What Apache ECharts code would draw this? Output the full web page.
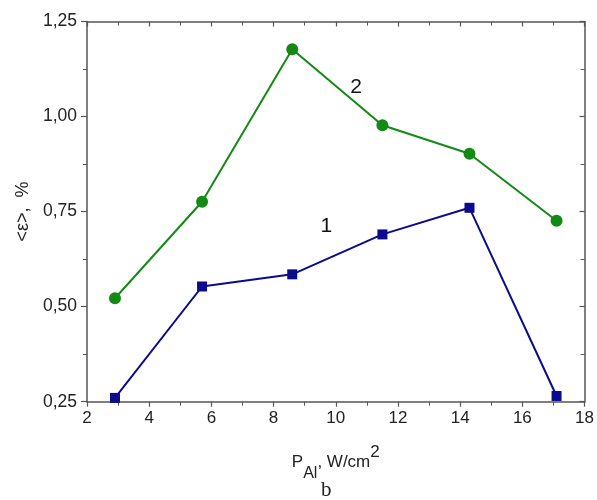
<!DOCTYPE html>
<html>
<head>
<meta charset="utf-8">
<script src="https://cdn.jsdelivr.net/npm/echarts@6/dist/echarts.min.js"></script>
<style>
  html, body { margin: 0; padding: 0; background: #fff; }
  #chart { width: 597px; height: 500px; }
</style>
</head>
<body>
<div id="chart"></div>
<script>
var power = [2.9, 5.7, 8.6, 11.5, 14.3, 17.1];
var curve1 = [0.26, 0.553, 0.585, 0.69, 0.76, 0.265];
var curve2 = [0.522, 0.776, 1.177, 0.977, 0.902, 0.726];
var curveLabels = [
    { name: '1', coord: [9.7, 0.712] },
    { name: '2', coord: [10.65, 1.078] }
];

function pairs(xs, ys) {
    return xs.map(function (x, i) { return [x, ys[i]]; });
}

var myChart = echarts.init(document.getElementById('chart'));

var axisColor = '#555';
var fontFam = 'Liberation Sans, Arial, sans-serif';

var option = {
    animation: false,
    grid: { left: 87, right: 9, top: 21.5, bottom: 98.3 },
    xAxis: [
        {
            type: 'value', position: 'bottom',
            min: 2, max: 18, interval: 2,
            axisLine: { lineStyle: { color: axisColor, width: 1.5 } },
            axisTick: { inside: false, length: 5, lineStyle: { color: axisColor, width: 1.2 } },
            minorTick: { show: true, splitNumber: 2, length: 4, lineStyle: { color: axisColor } },
            splitLine: { show: false },
            axisLabel: { color: '#222', fontSize: 17, fontFamily: fontFam, margin: 8 },
            name: '{a|P}{s|Al}{a|, W/cm}{p|2}',
            nameLocation: 'middle',
            nameGap: 42,
            nameTextStyle: {
                rich: {
                    a: { fontSize: 17, fontFamily: fontFam, color: '#222', lineHeight: 38, verticalAlign: 'middle' },
                    s: { fontSize: 16, fontFamily: fontFam, color: '#222', lineHeight: 38, verticalAlign: 'bottom' },
                    p: { fontSize: 17, fontFamily: fontFam, color: '#222', lineHeight: 38, verticalAlign: 'top' }
                }
            }
        },
        {
            type: 'value', position: 'top',
            min: 2, max: 18, interval: 2,
            axisLine: { show: true, lineStyle: { color: axisColor, width: 1.5 } },
            axisTick: { show: true, inside: true, length: 5, lineStyle: { color: axisColor, width: 1.2 } },
            minorTick: { show: true, splitNumber: 2, length: 4, lineStyle: { color: axisColor } },
            splitLine: { show: false },
            axisLabel: { show: false }
        }
    ],
    yAxis: [
        {
            type: 'value', position: 'left',
            min: 0.25, max: 1.25, interval: 0.25,
            axisLine: { show: true, lineStyle: { color: axisColor, width: 1.5 } },
            axisTick: { show: true, inside: false, length: 6, lineStyle: { color: axisColor, width: 1.2 } },
            minorTick: { show: true, splitNumber: 2, length: 4, lineStyle: { color: axisColor } },
            splitLine: { show: false },
            axisLabel: {
                color: '#222', fontSize: 17.5, fontFamily: fontFam, margin: 10,
                formatter: function (v) { return v.toFixed(2).replace('.', ','); }
            },
            name: '<\u03b5>,  %',
            nameLocation: 'middle',
            nameGap: 55,
            nameRotate: 90,
            nameTextStyle: { fontSize: 18, fontFamily: fontFam, color: '#222' }
        },
        {
            type: 'value', position: 'right',
            min: 0.25, max: 1.25, interval: 0.25,
            axisLine: { show: true, lineStyle: { color: axisColor, width: 1.5 } },
            axisTick: { show: true, inside: true, length: 5, lineStyle: { color: axisColor, width: 1.2 } },
            minorTick: { show: true, splitNumber: 2, length: 4, lineStyle: { color: axisColor } },
            splitLine: { show: false },
            axisLabel: { show: false }
        }
    ],
    series: [
        {
            name: '1', type: 'line',
            data: pairs(power, curve1),
            symbol: 'rect', symbolSize: 10,
            lineStyle: { color: '#0b0b8c', width: 2 },
            itemStyle: { color: '#0b0b8c' },
            markPoint: {
                symbol: 'circle', symbolSize: 1,
                itemStyle: { color: 'rgba(0,0,0,0)' },
                label: { show: true, position: 'inside', formatter: '{b}', color: '#111', fontSize: 21, fontFamily: fontFam },
                data: [curveLabels[0]]
            }
        },
        {
            name: '2', type: 'line',
            data: pairs(power, curve2),
            symbol: 'circle', symbolSize: 12,
            lineStyle: { color: '#138a13', width: 2 },
            itemStyle: { color: '#138a13' },
            markPoint: {
                symbol: 'circle', symbolSize: 1,
                itemStyle: { color: 'rgba(0,0,0,0)' },
                label: { show: true, position: 'inside', formatter: '{b}', color: '#111', fontSize: 21, fontFamily: fontFam },
                data: [curveLabels[1]]
            }
        }
    ],
    graphic: [
        {
            type: 'text', left: 321, top: 480,
            style: { text: 'b', font: '21px "Liberation Serif", "DejaVu Serif", serif', fill: '#222' }
        }
    ]
};

myChart.setOption(option);
</script>
</body>
</html>
